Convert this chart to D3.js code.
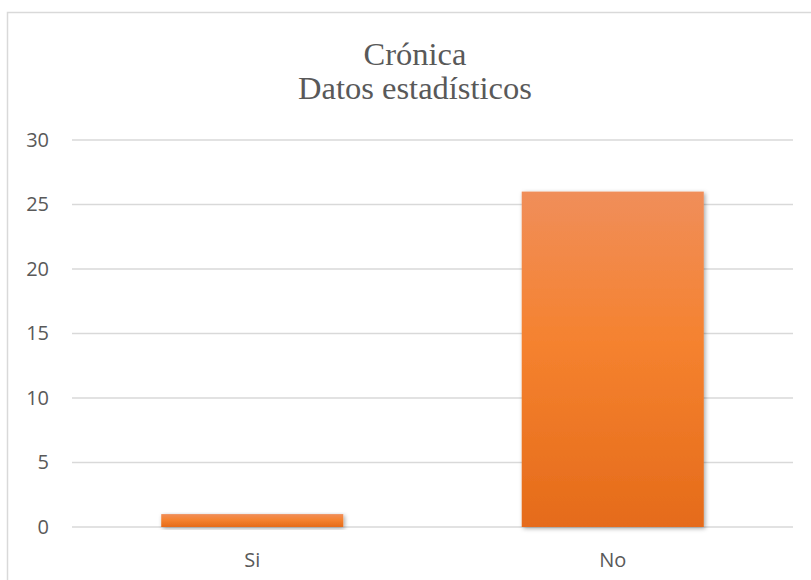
<!DOCTYPE html>
<html><head><meta charset="utf-8">
<script src="https://cdn.jsdelivr.net/npm/d3@7"></script>
<style>html,body{margin:0;padding:0;background:#fff;overflow:hidden}</style>
</head><body>
<script>
const categories = ["Si", "No"];
const values = [1, 26];
const yTicks = [0, 5, 10, 15, 20, 25, 30];
const titleLines = ["Crónica", "Datos estadísticos"];

const W = 811, H = 580;
const svg = d3.select("body").append("svg").attr("width", W).attr("height", H);

const defs = svg.append("defs");
const grad = defs.append("linearGradient").attr("id", "barGrad")
  .attr("x1", 0).attr("y1", 0).attr("x2", 0).attr("y2", 1);
grad.append("stop").attr("offset", "0%").attr("stop-color", "#F08E5A");
grad.append("stop").attr("offset", "45%").attr("stop-color", "#F5822F");
grad.append("stop").attr("offset", "100%").attr("stop-color", "#E56B1A");
const f = defs.append("filter").attr("id", "shadow").attr("x", "-10%").attr("y", "-10%").attr("width", "130%").attr("height", "130%");
f.append("feDropShadow").attr("dx", 1.5).attr("dy", 1.5).attr("stdDeviation", 2)
  .attr("flood-color", "#000").attr("flood-opacity", 0.35);

// chart frame
svg.append("rect").attr("x", 7.5).attr("y", 12.5).attr("width", W + 20).attr("height", H + 20)
  .attr("fill", "none").attr("stroke", "#D9D9D9").attr("stroke-width", 1.5);

const plot = {left: 72, right: 793, top: 140, bottom: 527};
const x = d3.scaleBand().domain(categories).range([plot.left, plot.right])
  .paddingInner(0.495).paddingOuter(0.2475);
const y = d3.scaleLinear().domain([0, 30]).range([plot.bottom, plot.top]);

// gridlines
svg.append("g").selectAll("line").data(yTicks).join("line")
  .attr("x1", plot.left).attr("x2", plot.right)
  .attr("y1", d => y(d)).attr("y2", d => y(d))
  .attr("stroke", "#D9D9D9").attr("stroke-width", 1.5);

// y axis labels
const yAxis = d3.axisLeft(y).tickValues(yTicks).tickSize(0).tickPadding(0).tickFormat(d3.format("d"));
const ga = svg.append("g").attr("transform", `translate(49,0)`).call(yAxis);
ga.select(".domain").remove();
ga.selectAll("text").attr("font-family", "'Open Sans', sans-serif").attr("font-size", 20)
  .attr("fill", "#595959");

// bars
svg.append("g").selectAll("rect").data(values).join("rect")
  .attr("x", (d, i) => x(categories[i]))
  .attr("width", x.bandwidth())
  .attr("y", d => y(d))
  .attr("height", d => y(0) - y(d))
  .attr("fill", "url(#barGrad)")
  .attr("filter", "url(#shadow)");

// x axis labels
const xAxis = d3.axisBottom(x).tickSize(0).tickPadding(0);
const gx = svg.append("g").attr("transform", `translate(0,${plot.bottom})`).call(xAxis);
gx.select(".domain").remove();
gx.selectAll("text").attr("font-family", "'Open Sans', sans-serif").attr("font-size", 20)
  .attr("fill", "#595959").attr("dy", null).attr("y", 40);

// title
svg.append("g").selectAll("text").data(titleLines).join("text")
  .attr("x", 415).attr("y", (d, i) => 65 + i * 34)
  .attr("text-anchor", "middle")
  .attr("font-family", "'Liberation Serif', 'Times New Roman', serif")
  .attr("font-size", 32.5).attr("fill", "#595959")
  .text(d => d);
</script>
</body></html>
